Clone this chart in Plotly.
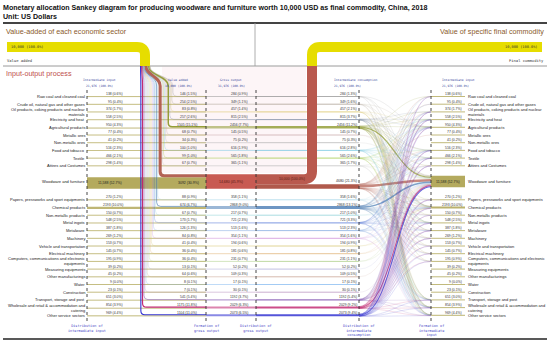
import plotly.graph_objects as go

# ---------------- data ----------------
sectors = [
    "Raw coal and cleaned coal",
    "Crude oil, natural gas and other gases",
    "Oil products, coking products and nuclear<br>materials",
    "Electricity and heat",
    "Agricultural products",
    "Metallic ores",
    "Non-metallic ores",
    "Food and tobacco",
    "Textile",
    "Attires and Costumes",
    "Woodware and furniture",
    "Papers, pressworks and sport equipments",
    "Chemical products",
    "Non-metallic products",
    "Metal ingots",
    "Metalware",
    "Machinery",
    "Vehicle and transportation",
    "Electrical machinery",
    "Computers, communications and electronic<br>equipments",
    "Measuring equipments",
    "Other manufacturings",
    "Water",
    "Construction",
    "Transport, storage and post",
    "Wholesale and retail & accommodation and<br>catering",
    "Other service sectors",
]
intermediate_input = [138, 95, 374, 558, 950, 77, 41, 516, 466, 298, 11588, 270, 2193, 150,
                      548, 387, 269, 153, 145, 195, 39, 45, 9, 23, 651, 854, 969]
value_added = [146, 254, 83, 257, 1505, 68, 34, 100, 99, 67, 3092, 88, 674, 67,
               173, 126, 84, 41, 36, 36, 13, 64, 8, 7, 541, 1175, 1104]
gross_output = [284, 349, 457, 815, 2456, 145, 75, 616, 565, 365, 14680, 358, 2868, 217,
                721, 513, 354, 194, 181, 231, 52, 109, 17, 30, 1192, 2029, 2073]
final_commodity = [0, 0, 0, 0, 0, 0, 0, 0, 0, 0, 10000, 0, 0, 0,
                   0, 0, 0, 0, 0, 0, 0, 0, 0, 0, 0, 0, 0]
intermediate_consumption = [284, 349, 457, 815, 2456, 145, 75, 616, 565, 365, 4680, 358, 2868, 217,
                            721, 513, 354, 194, 181, 231, 52, 109, 17, 30, 1192, 2029, 2073]
total_intermediate = 21976
total_value_added = 10000
total_gross = 31976
total_final = 10000

sector_colors = [
    "#8f8f8f", "#a89c8c", "#d8c25a", "#6f7f99", "#8f9a2e", "#c8a8a8", "#b4b4b4",
    "#6cc4e0", "#9cc83c", "#bdbdbd", "#b05a4c", "#9fd4e6", "#4a7db5", "#8ad0d6",
    "#4a6fd6", "#7ea6e0", "#cc88d8", "#d6c46c", "#e0b070", "#a8cc80", "#a8a8d8",
    "#c8a090", "#80b8f0", "#b890c0", "#8050b0", "#c0206c", "#2a2ad0",
]
OLIVE = "#b4aa5e"
RED = "#c85a52"
YELLOW = "#e6dd00"
SANS = "Liberation Sans, Arial, sans-serif"
MONO = "DejaVu Sans Mono, monospace"

# ---------------- layout constants (pixel-like data space) ----------------
n = len(sectors)
FOCUS = sectors.index("Woodware and furniture")
PX = 1 / 1000.0          # band thickness: 1 px per 1000 USD
MINW = 0.9
X_LAB_R, X_II_L, X_GO_F, X_GO_D, X_IC_D, X_II_R, X_BOX_R, X_LAB_L = 85, 87, 206, 256, 359, 431, 465, 468

centers = []
y = 96.5
for i in range(n):
    if i > 0:
        y += 7.7
        if i == FOCUS:
            y += 8.0
        if i == FOCUS + 1:
            y += 10.6
    centers.append(y)


def fmt(v):
    return f"{v:,}" if v >= 10000 else str(v)


def pct(v, tot):
    t = (v * 2000 + tot) // (2 * tot)
    return f"{t // 10}.{t % 10}%"


def lab(v, tot):
    return f"{fmt(v)} ({pct(v, tot)})"


shapes = []
annots = []


def add_line(x0, y0, x1, y1, color, width, dash="solid", opacity=1.0):
    shapes.append(dict(type="line", xref="x", yref="y", x0=x0, y0=y0, x1=x1, y1=y1,
                       line=dict(color=color, width=width, dash=dash), opacity=opacity))


def add_path(d, color, width, opacity=1.0):
    shapes.append(dict(type="path", xref="x", yref="y", path=d,
                       line=dict(color=color, width=width),
                       fillcolor="rgba(0,0,0,0)", opacity=opacity))


def add_rect(x0, y0, x1, y1, fill, lc=None, lw=0, opacity=1.0):
    shapes.append(dict(type="rect", xref="x", yref="y", x0=x0, y0=y0, x1=x1, y1=y1,
                       fillcolor=fill, line=dict(color=lc or fill, width=lw), opacity=opacity))


def txt(x, y, s, size, color="#222", xa="left", ya="middle", family=SANS, align=None):
    annots.append(dict(x=x, y=y, xref="x", yref="y", text=s, showarrow=False,
                       xanchor=xa, yanchor=ya, borderpad=0, borderwidth=0,
                       align=align or (xa if xa in ("left", "right") else "center"),
                       font=dict(size=size, color=color, family=family)))


# ---------------- frame / rules ----------------
add_rect(162, 66.5, 306, 173, "#fdf5f7")
add_line(3, 23, 547, 23, "#444", 2)
add_line(3, 66, 547, 66, "#9a9a9a", 1)
add_line(255, 23, 255, 66, "#9a9a9a", 0.8)
add_line(3, 339, 547, 339, "#222", 1.5)

# ---------------- row bands ----------------
tops = [centers[i] - gross_output[i] * PX / 2 for i in range(n)]
va_c = [tops[i] + value_added[i] * PX / 2 for i in range(n)]
ii_c = [tops[i] + value_added[i] * PX + intermediate_input[i] * PX / 2 for i in range(n)]
ic_top = [tops[i] + final_commodity[i] * PX for i in range(n)]
ic_c = [ic_top[i] + intermediate_consumption[i] * PX / 2 for i in range(n)]

for i in range(n):
    if i == FOCUS:
        continue
    c = centers[i]
    add_line(X_II_L, ii_c[i], X_GO_F, ii_c[i], OLIVE, max(MINW, intermediate_input[i] * PX), opacity=0.85)
    add_line(X_GO_F, c, X_GO_D, c, sector_colors[i], max(MINW, gross_output[i] * PX), opacity=0.55)
    add_line(X_GO_D, ic_c[i], X_IC_D, ic_c[i], sector_colors[i], max(MINW, intermediate_consumption[i] * PX), opacity=0.8)

# ---------------- intermediate flows (proportional allocation) ----------------
s_run = [ic_top[i] for i in range(n)]
t_run = [centers[j] - intermediate_input[j] * PX / 2 for j in range(n)]
for i in range(n):
    for j in range(n):
        f = intermediate_consumption[i] * intermediate_input[j] / total_intermediate
        h = f * PX
        ys = s_run[i] + h / 2
        yt = t_run[j] + h / 2
        s_run[i] += h
        t_run[j] += h
        if f < 12:
            continue
        add_path(f"M {X_IC_D},{ys:.2f} C 395,{ys:.2f} 395,{yt:.2f} {X_II_R},{yt:.2f}",
                 sector_colors[i], max(0.35, h), opacity=0.7 if h >= 0.8 else 0.4)

for i in range(n):
    if i == FOCUS:
        continue
    add_line(X_II_R, centers[i], X_BOX_R, centers[i], OLIVE, max(MINW, intermediate_input[i] * PX), opacity=0.9)

# ---------------- focus sector boxes ----------------
fc = centers[FOCUS]
add_rect(X_II_L, ii_c[FOCUS] - intermediate_input[FOCUS] * PX / 2, X_GO_F,
         ii_c[FOCUS] + intermediate_input[FOCUS] * PX / 2, OLIVE)
add_rect(X_GO_F, tops[FOCUS], X_GO_D, tops[FOCUS] + gross_output[FOCUS] * PX, RED)
add_line(X_GO_D, ic_c[FOCUS], X_IC_D, ic_c[FOCUS], sector_colors[FOCUS],
         intermediate_consumption[FOCUS] * PX)
add_rect(X_II_R, fc - intermediate_input[FOCUS] * PX / 2, X_BOX_R,
         fc + intermediate_input[FOCUS] * PX / 2, OLIVE)

# ---------------- value-added flows from the top band ----------------
va_x = [0.0] * n
run = 140.3
for i in reversed(range(n)):
    w = max(0.5, value_added[i] * PX)
    va_x[i] = run + w / 2
    run += w + 0.55
top_x = [0.0] * n
run2 = 140.0
for i in reversed(range(n)):
    w = value_added[i] * PX
    top_x[i] = run2 + w / 2
    run2 += w
R = 4
for i in range(n):
    w = max(0.5, value_added[i] * PX)
    yv = va_c[i]
    d = (f"M {top_x[i]:.2f},66 C {top_x[i]:.2f},76 {va_x[i]:.2f},76 {va_x[i]:.2f},86 "
         f"L {va_x[i]:.2f},{yv - R:.2f} Q {va_x[i]:.2f},{yv:.2f} {va_x[i] + R:.2f},{yv:.2f} "
         f"L {X_GO_F},{yv:.2f}")
    add_path(d, sector_colors[i], w, opacity=0.95 if value_added[i] >= 500 else 0.55)

# yellow value-added band
band = total_value_added * PX
add_path("M 7,47 L 137,47 Q 145,47 145,55 L 145,66", YELLOW, band)
# final commodity band
yf = tops[FOCUS] + final_commodity[FOCUS] * PX / 2
add_path(f"M {X_GO_D},{yf:.2f} L 304,{yf:.2f} Q 312,{yf:.2f} 312,{yf - 8:.2f} L 312,66",
         "#b9594e", final_commodity[FOCUS] * PX)
add_path("M 542,47 L 320,47 Q 312,47 312,55 L 312,66", YELLOW, total_final * PX)

# dotted axes
for xd in (X_II_L, X_GO_F, X_GO_D, X_IC_D, X_II_R):
    add_line(xd, 90, xd, 321, "#333", 0.9, dash="dot")

# ---------------- texts ----------------
txt(3, 8, "<b>Monetary allocation Sankey diagram for producing woodware and furniture worth 10,000 USD as final commodity, China, 2018</b>", 7.1, "#111")
txt(3, 16.5, "<b>Unit: US Dollars</b>", 7.1, "#111")
txt(6, 31, "Value-added of each economic sector", 7.2, "#8a5a2b")
txt(544, 31, "Value of specific final commodity", 7.2, "#8a5a2b", xa="right")
txt(6, 73, "Input-output process", 7.2, "#c0504d")
txt(11, 47, lab(total_value_added, total_value_added), 3.6, "#333", family=MONO)
txt(537, 47, lab(total_final, total_final), 3.6, "#333", xa="right", family=MONO)
txt(7, 60, "Value added", 3.8, "#333", family=MONO)
txt(544, 60, "Final commodity", 3.8, "#333", xa="right", family=MONO)

HC = "#3c4a9c"
txt(99.5, 80, "Intermediate input", 3.0, HC, xa="center", family=MONO)
txt(99.5, 85.5, lab(total_intermediate, total_intermediate), 3.0, HC, xa="center", family=MONO)
txt(178, 80, "Value added", 3.0, HC, xa="center", family=MONO)
txt(178, 85.5, lab(total_value_added, total_value_added), 3.0, HC, xa="center", family=MONO)
txt(231, 80, "Gross output", 3.0, HC, xa="center", family=MONO)
txt(231, 85.5, lab(total_gross, total_gross), 3.0, HC, xa="center", family=MONO)
txt(334, 80, "Intermediate consumption", 3.0, HC, family=MONO)
txt(334, 85.5, lab(total_intermediate, total_intermediate), 3.0, HC, family=MONO)
txt(442, 80, "Intermediate input", 3.0, HC, family=MONO)
txt(442, 85.5, lab(total_intermediate, total_intermediate), 3.0, HC, family=MONO)

BC = "#4a4ac8"
txt(X_II_L, 328, "Distribution of<br>intermediate input", 3.5, BC, xa="center", family=MONO)
txt(X_GO_F, 328, "Formation of<br>gross output", 3.5, BC, xa="center", family=MONO)
txt(X_GO_D, 328, "Distribution of<br>gross output", 3.5, BC, xa="center", family=MONO)
txt(X_IC_D, 330, "Distribution of<br>intermediate<br>consumption", 3.5, BC, xa="center", family=MONO)
txt(X_II_R, 330, "Formation of<br>intermediate<br>input", 3.5, BC, xa="center", family=MONO)

VC = "#333"
for i in range(n):
    c = centers[i]
    txt(X_LAB_R, c, sectors[i], 4.0, "#222", xa="right")
    txt(X_LAB_L, c, sectors[i], 4.0, "#222", xa="left")
    if i == FOCUS:
        txt(110, c + 1, lab(intermediate_input[i], total_intermediate), 3.5, "#222", xa="center")
        txt(199, c + 1, lab(value_added[i], total_value_added), 3.5, "#222", xa="right")
        txt(231, c, lab(gross_output[i], total_gross), 3.5, "#5a1a14", xa="center")
        txt(305, yf, lab(final_commodity[i], total_final), 3.5, "#5a1a14", xa="right")
        txt(357, c - 0.5, lab(intermediate_consumption[i], total_intermediate), 3.5, VC, xa="right")
        txt(448, c, lab(intermediate_input[i], total_intermediate), 3.5, "#222", xa="center")
        continue
    ty = c - 2.6
    txt(123, ty, lab(intermediate_input[i], total_intermediate), 3.4, VC, xa="right")
    txt(197, ty, lab(value_added[i], total_value_added), 3.4, VC, xa="right")
    txt(248, ty, lab(gross_output[i], total_gross), 3.4, VC, xa="right")
    txt(357, ty, lab(intermediate_consumption[i], total_intermediate), 3.4, VC, xa="right")
    txt(462, ty, lab(intermediate_input[i], total_intermediate), 3.4, VC, xa="right")

fig = go.Figure()
fig.add_trace(go.Scatter(x=[0, 550], y=[0, 344], mode="markers",
                         marker=dict(opacity=0), hoverinfo="skip", showlegend=False))
fig.update_layout(
    width=550, height=344, margin=dict(l=0, r=0, t=0, b=0),
    paper_bgcolor="white", plot_bgcolor="white", showlegend=False,
    xaxis=dict(range=[0, 550], visible=False, fixedrange=True),
    yaxis=dict(range=[344, 0], visible=False, fixedrange=True),
    shapes=shapes, annotations=annots,
)
fig.write_html("out.html", config={"displayModeBar": False},
               post_script="document.body.style.margin='0';document.body.style.overflow='hidden';")
